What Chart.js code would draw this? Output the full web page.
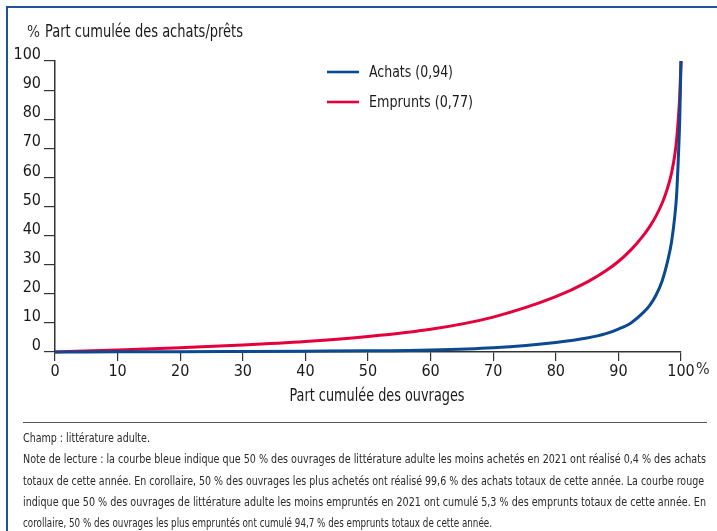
<!DOCTYPE html>
<html><head><meta charset="utf-8">
<script src="https://cdn.jsdelivr.net/npm/chart.js@4.4.1/dist/chart.umd.min.js"></script>
<style>
html,body{margin:0;padding:0;background:#fff;}
#wrap{position:relative;width:717px;height:531px;overflow:hidden;background:#fff;}
#c{position:absolute;left:0;top:0;}
.frameTop{position:absolute;left:6px;top:6px;width:711px;height:2px;background:#1f5598;}
.frameLeft{position:absolute;left:6px;top:6px;width:2px;height:525px;background:#1f5598;}
.sep{position:absolute;left:23px;top:422px;width:684px;height:1px;background:#555;}
#notes{position:absolute;left:23px;top:427px;}
.note{white-space:nowrap;font-size:13px;line-height:21.3px;height:21.3px;color:#2a2a2a;transform-origin:0 50%;}
</style></head>
<body><div id="wrap">
<canvas id="c" width="717" height="531"></canvas>
<div class="frameTop"></div><div class="frameLeft"></div><div class="sep"></div>
<div id="notes"></div>
</div>
<script>
// ---- data ----
const xAchats   = [0,10,20,30,40,50,60,70,80,85,88,90,92,94,95,96,97,98,98.5,99,99.3,99.6,99.8,100];
const achats    = [0,0.05,0.1,0.2,0.3,0.4,0.7,1.5,3.3,4.8,6.3,7.9,10,13.6,16,19.5,24.5,32.5,38,46.5,54,68,80,100];
const xEmprunts = [0,10,20,30,40,50,60,70,80,85,88,90,92,94,95,96,97,97.5,98,98.5,99,99.3,99.6,99.8,100];
const emprunts  = [0,0.7,1.5,2.4,3.6,5.3,7.8,12,19,24,27.9,31.1,35.1,40.1,43.1,46.7,51.2,54,57.4,61.6,67.6,73,81.1,88.1,100];
const seriesLabels = ['Achats (0,94)','Emprunts (0,77)'];
const xTicks = [0,10,20,30,40,50,60,70,80,90,100];
const yTicks = [0,10,20,30,40,50,60,70,80,90,100];
const yTitle = 'Part cumulée des achats/prêts';
const xTitle = 'Part cumulée des ouvrages';
const noteLines = [
 'Champ : littérature adulte.',
 'Note de lecture : la courbe bleue indique que 50 % des ouvrages de littérature adulte les moins achetés en 2021 ont réalisé 0,4 % des achats',
 'totaux de cette année. En corollaire, 50 % des ouvrages les plus achetés ont réalisé 99,6 % des achats totaux de cette année. La courbe rouge',
 'indique que 50 % des ouvrages de littérature adulte les moins empruntés en 2021 ont cumulé 5,3 % des emprunts totaux de cette année. En',
 'corollaire, 50 % des ouvrages les plus empruntés ont cumulé 94,7 % des emprunts totaux de cette année.'
];
const noteWidths = [127, 683, 681, 683, 469];

// ---- fonts ----
function hasFont(name){
  const c=document.createElement('canvas').getContext('2d');
  const s='mmmmmmmmmmlli Part cumulée 0123456789';
  c.font='40px monospace'; const a=c.measureText(s).width;
  c.font='40px "'+name+'", monospace'; const b=c.measureText(s).width;
  c.font='40px serif'; const a2=c.measureText(s).width;
  c.font='40px "'+name+'", serif'; const b2=c.measureText(s).width;
  return a!==b || a2!==b2;
}
const FAM = ['Liberation Sans Narrow','DejaVu Sans Condensed','Roboto Condensed'].find(hasFont) || 'Liberation Sans';
const FONT = '"'+FAM+'", "Liberation Sans", Arial, sans-serif';
const BLUE = '#0b4a90', RED = '#e4003b', TXT = '#1a1a1a', AX = '#333';

// ---- notes ----
const notes = document.getElementById('notes');
noteLines.forEach((t)=>{
  const d=document.createElement('div'); d.className='note'; d.style.fontFamily=FONT; d.textContent=t;
  notes.appendChild(d);
});
[...notes.children].forEach((d,i)=>{
  const r=document.createRange(); r.selectNodeContents(d); const w=r.getBoundingClientRect().width;
  d.style.transform='scaleX('+(noteWidths[i]/w)+')';
});

// ---- plugin for titles, legend, "%" ----
const legendW = [84, 104];
const extras = {
  id:'extras',
  afterDraw(chart){
    const ctx=chart.ctx; ctx.save();
    ctx.textBaseline='middle'; ctx.textAlign='left';
    ctx.font='300 16px '+FONT; ctx.fillStyle='#333';
    ctx.fillText('%', 27, 33, 13);
    ctx.fillStyle=TXT; ctx.font='17.5px '+FONT;
    ctx.fillText(yTitle, 45, 32, 198);
    // x-axis title
    ctx.textAlign='center'; ctx.font='17px '+FONT;
    ctx.fillText(xTitle, 377, 397, 175);
    ctx.textAlign='left';
    // % after last x tick
    const xs=chart.scales.x;
    ctx.font='16px '+FONT; ctx.fillStyle='#333';
    ctx.fillText('%', xs.getPixelForValue(100)+15, 370);
    // legend
    const ds=chart.data.datasets;
    const ly=[72,102];
    ds.forEach((d,i)=>{
      ctx.strokeStyle=d.borderColor; ctx.lineWidth=2.6;
      ctx.beginPath(); ctx.moveTo(327,ly[i]); ctx.lineTo(359,ly[i]); ctx.stroke();
      ctx.fillStyle=TXT; ctx.font='16px '+FONT;
      ctx.fillText(d.label, 369, ly[i]+1, legendW[i]);
    });
    ctx.restore();
  }
};

const toPts = (xs,ys)=> xs.map((x,i)=>({x, y:ys[i]}));
new Chart(document.getElementById('c'), {
  type:'line',
  data:{ datasets:[
    {label:seriesLabels[0], data:toPts(xAchats,achats), borderColor:BLUE, borderWidth:3, pointRadius:0, cubicInterpolationMode:'monotone', clip:false, order:1},
    {label:seriesLabels[1], data:toPts(xEmprunts,emprunts), borderColor:RED, borderWidth:3, pointRadius:0, cubicInterpolationMode:'monotone', clip:false, order:2}
  ]},
  options:{
    responsive:false, animation:false, events:[],
    layout:{padding:{left:0, right:36, top:61, bottom:123}},
    plugins:{legend:{display:false}, tooltip:{enabled:false}},
    scales:{
      x:{type:'linear', min:0, max:100,
        afterBuildTicks(s){ s.ticks = xTicks.map(v=>({value:v})); },
        afterFit(s){ s.height=56; },
        ticks:{font:{family:FONT,size:16}, color:TXT, padding:1, maxRotation:0, autoSkip:false},
        grid:{drawOnChartArea:false, drawTicks:true, tickLength:9, color:AX, lineWidth:1.2},
        border:{display:true, color:AX, width:1.5},
        title:{display:false}
      },
      y:{min:0, max:100,
        afterBuildTicks(s){ s.ticks = yTicks.map(v=>({value:v})); },
        afterFit(s){ s.width=55; },
        ticks:{font:{family:FONT,size:16}, color:TXT, padding:3, labelOffset:-6, autoSkip:false},
        grid:{drawOnChartArea:false, drawTicks:true, tickLength:11, color:AX, lineWidth:1.2},
        border:{display:true, color:AX, width:1.5}
      }
    }
  },
  plugins:[extras]
});
</script>
</body></html>
